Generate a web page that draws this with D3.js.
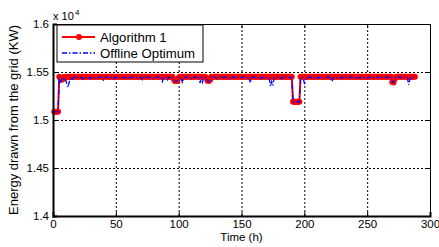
<!DOCTYPE html>
<html>
<head>
<meta charset="utf-8">
<script src="https://cdn.jsdelivr.net/npm/d3@7"></script>
<style>
  body { margin: 0; background: #fff; }
  text { font-family: "Liberation Sans", Arial, sans-serif; }
</style>
</head>
<body>
<div id="chart"></div>
<script>
// energy drawn from grid per hour (KW), hours 1..288, one row per day
var algorithm1 = [
  15085,15085,15085,15085,15450,15430,15420,15430,15450,15445,15450,15450,15450,15450,15450,15450,15450,15450,15450,15450,15450,15450,15450,15450,
  15450,15450,15450,15450,15450,15450,15450,15450,15450,15450,15450,15450,15450,15450,15450,15450,15450,15450,15450,15450,15450,15450,15450,15450,
  15450,15450,15450,15450,15450,15450,15450,15450,15450,15450,15450,15450,15450,15450,15450,15450,15450,15450,15450,15450,15450,15450,15450,15450,
  15450,15450,15450,15450,15450,15450,15450,15450,15450,15450,15450,15450,15450,15450,15450,15450,15450,15450,15450,15450,15450,15450,15450,15430,
  15405,15405,15410,15440,15450,15450,15450,15450,15450,15450,15450,15450,15450,15450,15450,15450,15450,15450,15450,15450,15450,15450,15450,15450,
  15450,15440,15410,15405,15420,15450,15450,15450,15450,15450,15450,15450,15450,15450,15450,15450,15450,15450,15450,15450,15450,15450,15450,15450,
  15450,15450,15450,15450,15450,15450,15450,15450,15450,15450,15450,15450,15450,15450,15450,15450,15450,15450,15450,15450,15450,15450,15450,15450,
  15450,15450,15450,15450,15450,15450,15450,15450,15450,15450,15450,15450,15450,15450,15450,15450,15450,15450,15450,15450,15450,15450,15190,15190,
  15190,15190,15190,15190,15450,15450,15450,15450,15450,15450,15450,15450,15450,15450,15450,15450,15450,15450,15450,15450,15450,15450,15450,15450,
  15450,15450,15450,15450,15450,15450,15450,15450,15450,15450,15450,15450,15450,15450,15450,15450,15450,15450,15450,15450,15450,15450,15450,15450,
  15450,15450,15450,15450,15450,15450,15450,15450,15450,15450,15450,15450,15450,15450,15450,15450,15450,15450,15450,15450,15450,15450,15450,15450,
  15450,15450,15450,15450,15450,15395,15390,15430,15450,15450,15450,15450,15450,15450,15450,15450,15450,15450,15450,15450,15450,15450,15450,15450
];
var offlineOptimum = [
  15085,15085,15085,15085,15450,15400,15430,15440,15410,15420,15380,15340,15400,15430,15410,15440,15445,15450,15440,15445,15435,15445,15440,15425,
  15445,15440,15450,15445,15440,15430,15445,15450,15440,15445,15445,15440,15450,15445,15440,15415,15440,15445,15450,15440,15445,15440,15445,15430,
  15445,15440,15450,15445,15440,15445,15450,15440,15445,15440,15445,15450,15425,15445,15440,15450,15445,15440,15445,15450,15440,15445,15420,15445,
  15440,15450,15445,15440,15445,15450,15440,15430,15445,15440,15450,15445,15440,15445,15400,15440,15445,15450,15420,15445,15440,15450,15440,15425,
  15405,15400,15410,15440,15445,15440,15385,15440,15445,15450,15440,15445,15440,15430,15445,15440,15450,15445,15440,15445,15385,15440,15395,15445,
  15445,15440,15410,15400,15420,15445,15440,15450,15445,15430,15440,15445,15450,15440,15445,15440,15450,15445,15440,15430,15445,15440,15450,15445,
  15440,15445,15450,15440,15445,15440,15450,15445,15440,15445,15440,15450,15385,15440,15445,15450,15440,15445,15440,15445,15430,15445,15440,15450,
  15445,15440,15445,15440,15350,15400,15360,15440,15445,15450,15440,15445,15440,15430,15445,15440,15450,15445,15440,15445,15440,15445,15190,15190,
  15190,15190,15190,15190,15440,15445,15440,15385,15420,15445,15440,15450,15445,15440,15445,15440,15450,15435,15445,15440,15445,15450,15440,15445,
  15440,15445,15450,15440,15445,15400,15440,15445,15450,15440,15445,15440,15445,15435,15440,15445,15450,15440,15445,15440,15450,15445,15440,15445,
  15440,15425,15445,15440,15450,15445,15440,15445,15440,15435,15445,15440,15450,15445,15440,15445,15440,15450,15445,15440,15430,15445,15440,15445,
  15440,15445,15450,15440,15445,15395,15390,15430,15445,15440,15450,15445,15440,15445,15440,15450,15445,15440,15365,15420,15445,15440,15450,15445
];
var xTicks = [0, 50, 100, 150, 200, 250, 300];
var yTicks = [14000, 14500, 15000, 15500, 16000];
var seriesNames = ["Algorithm 1", "Offline Optimum"];

var W = 439, H = 247;
var margin = {top: 24, right: 9, bottom: 31, left: 53},
    width = W - margin.left - margin.right,
    height = H - margin.top - margin.bottom;

var svg = d3.select("#chart").append("svg")
  .attr("width", W).attr("height", H);

var g = svg.append("g")
  .attr("transform", "translate(" + margin.left + "," + margin.top + ")");

var x = d3.scaleLinear().domain([0, 300]).range([0, width]);
var y = d3.scaleLinear().domain([14000, 16000]).range([height, 0]);

// grid
g.append("g")
  .attr("transform", "translate(0," + height + ")")
  .call(d3.axisBottom(x).tickValues(xTicks.slice(1, -1)).tickSize(-height).tickFormat(""))
  .call(s => s.select(".domain").remove())
  .selectAll("line").attr("stroke", "#000").attr("stroke-dasharray", "2,2");
g.append("g")
  .call(d3.axisLeft(y).tickValues(yTicks.slice(1, -1)).tickSize(-width).tickFormat(""))
  .call(s => s.select(".domain").remove())
  .selectAll("line").attr("stroke", "#000").attr("stroke-dasharray", "2,2");

var hours = algorithm1.map((d, i) => i + 1);

var line = d3.line().x((d, i) => x(hours[i])).y(d => y(d));

g.append("path")
  .datum(algorithm1)
  .attr("fill", "none")
  .attr("stroke", "#ff0000")
  .attr("stroke-width", 2)
  .attr("d", line);

g.selectAll("circle.alg")
  .data(algorithm1)
  .enter().append("circle")
  .attr("class", "alg")
  .attr("cx", (d, i) => x(hours[i]))
  .attr("cy", d => y(d))
  .attr("r", 3)
  .attr("fill", "#ff0000");

g.append("path")
  .datum(offlineOptimum)
  .attr("fill", "none")
  .attr("stroke", "#0000ff")
  .attr("stroke-width", 1.3)
  .attr("stroke-dasharray", "5,2,1.5,2")
  .attr("d", line);

// axes, ticks pointing inward
var fmtY = d => d3.format(".2~f")(d / 10000);
var xb = g.append("g").attr("transform", "translate(0," + height + ")")
  .call(d3.axisBottom(x).tickValues(xTicks).tickSize(-4).tickPadding(4));
var yl = g.append("g")
  .call(d3.axisLeft(y).tickValues(yTicks).tickSize(-4).tickPadding(4).tickFormat(fmtY));
g.append("g")
  .call(d3.axisTop(x).tickValues(xTicks).tickSize(-4).tickFormat(""));
g.append("g").attr("transform", "translate(" + width + ",0)")
  .call(d3.axisRight(y).tickValues(yTicks).tickSize(-4).tickFormat(""));

g.selectAll(".tick text").attr("font-size", 11.5).attr("fill", "#000")
  .style("font-family", "'Liberation Sans', Arial, sans-serif");
g.selectAll(".domain").attr("stroke", "#000");
xb.select(".domain").attr("stroke-width", 2);
yl.select(".domain").attr("stroke-width", 2);

// exponent label
svg.append("text").attr("x", 53).attr("y", 20).attr("font-size", 11).text("x 10");
svg.append("text").attr("x", 75).attr("y", 15).attr("font-size", 8).text("4");

// axis titles
svg.append("text")
  .attr("x", margin.left + width / 2).attr("y", 241)
  .attr("text-anchor", "middle").attr("font-size", 11.5)
  .text("Time (h)");
svg.append("text")
  .attr("transform", "translate(18," + (margin.top + height / 2) + ") rotate(-90)")
  .attr("text-anchor", "middle").attr("font-size", 13)
  .text("Energy drawn from the grid (KW)");

// legend
var lg = svg.append("g");
lg.append("rect")
  .attr("x", 57).attr("y", 25).attr("width", 146).attr("height", 37)
  .attr("fill", "#fff").attr("stroke", "#000").attr("stroke-width", 1);
lg.append("line").attr("x1", 62).attr("x2", 95).attr("y1", 37).attr("y2", 37)
  .attr("stroke", "#ff0000").attr("stroke-width", 2);
lg.append("circle").attr("cx", 79).attr("cy", 37).attr("r", 3).attr("fill", "#ff0000");
lg.append("line").attr("x1", 62).attr("x2", 95).attr("y1", 53).attr("y2", 53)
  .attr("stroke", "#0000ff").attr("stroke-width", 1.3).attr("stroke-dasharray", "5,2,1.5,2");
lg.selectAll("text.name").data(seriesNames).enter().append("text")
  .attr("class", "name")
  .attr("x", 100).attr("y", (d, i) => 41.5 + i * 16)
  .attr("font-size", 13.2)
  .text(d => d);
</script>
</body>
</html>
